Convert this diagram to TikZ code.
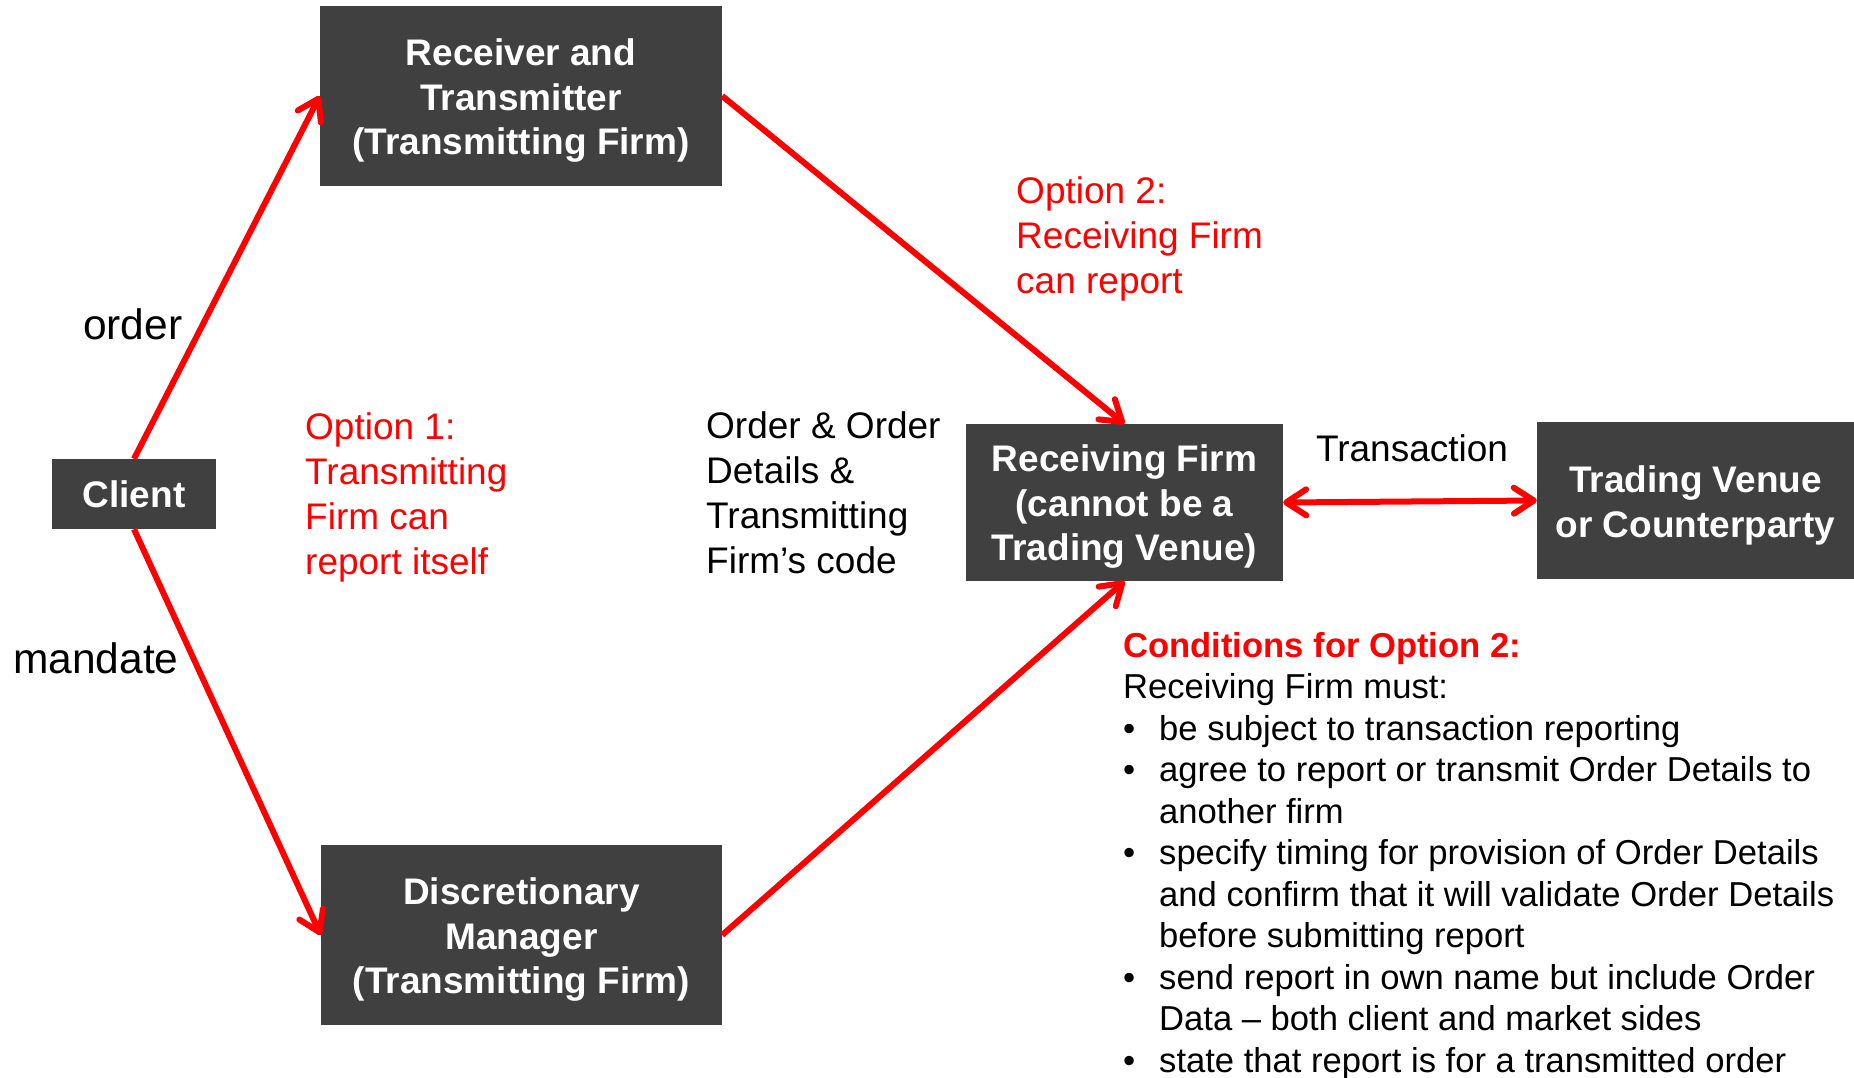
\documentclass[tikz,border=0pt]{standalone}
\usepackage{fontspec}
\setmainfont{Liberation Sans}
\usetikzlibrary{arrows.meta}
\definecolor{boxgray}{HTML}{404040}
\definecolor{optred}{HTML}{FF0000}
\newcommand{\lowr}[1]{\rule{0pt}{#1}}
\begin{document}
\begin{tikzpicture}[x=1pt,y=-1pt,
  box/.style={fill=boxgray,text=white,font=\bfseries\fontsize{37}{44.5}\selectfont,align=center,inner sep=0pt},
  lbl/.style={font=\fontsize{42.5}{51}\selectfont,inner sep=0pt,anchor=base west},
  txt/.style={font=\fontsize{37}{45}\selectfont,inner sep=0pt,anchor=base west},
  redtxt/.style={txt,text=optred},
  condtxt/.style={font=\fontsize{34.6}{41.5}\selectfont,inner sep=0pt,anchor=base west},
  arr/.style={draw=optred,line width=6pt,-{Straight Barb[length=20pt,width=26pt,round]}},
  darr/.style={draw=optred,line width=6pt,{Straight Barb[length=20pt,width=26pt,round]}-{Straight Barb[length=20pt,width=26pt,round]}}]
\useasboundingbox (0,0) rectangle (1854,1077);
\fill[white] (0,0) rectangle (1854,1077);

% boxes
\node[box,minimum width=402pt,minimum height=180pt] (rt) at (521,96) {\lowr{36.5pt}Receiver and\\Transmitter\\(Transmitting Firm)};
\node[box,minimum width=164pt,minimum height=70pt] (client) at (134,494) {Client};
\node[box,minimum width=401pt,minimum height=180pt] (dm) at (521.5,935) {\lowr{36pt}Discretionary\\Manager\\(Transmitting Firm)};
\node[box,minimum width=317pt,minimum height=157pt] (rf) at (1124.5,502.5) {\lowr{35pt}Receiving Firm\\(cannot be a\\Trading Venue)};
\node[box,minimum width=317pt,minimum height=157pt] (tv) at (1695.5,500.5) {\lowr{36.5pt}Trading Venue\\or Counterparty};

% connectors
\draw[arr] (client.north) -- (rt.west);
\draw[arr] (client.south) -- (dm.west);
\draw[arr] (rt.east) -- (rf.north);
\draw[arr] (dm.east) -- (rf.south);
\draw[darr] (rf.east) -- (tv.west);

% labels
\node[lbl] (lorder) at (83,339) {order};
\node[lbl] (lmandate) at (13,673) {mandate};
\node[redtxt] (opt1) at (305,439) {\begin{tabular}[t]{@{}l@{}}Option 1:\\Transmitting\\Firm can\\report itself\end{tabular}};
\node[txt] (ordtxt) at (706,438) {\begin{tabular}[t]{@{}l@{}}Order \& Order\\Details \&\\Transmitting\\Firm’s code\end{tabular}};
\node[redtxt] (opt2) at (1016,203) {\begin{tabular}[t]{@{}l@{}}Option 2:\\Receiving Firm\\can report\end{tabular}};
\node[txt,anchor=base] (ltrans) at (1412,461) {Transaction};
\node[condtxt] (cond) at (1123,657) {\begin{tabular}[t]{@{}l@{}}%
\textcolor{optred}{\bfseries Conditions for Option 2:}\\
Receiving Firm must:\\
\makebox[36pt][l]{•}be subject to transaction reporting\\
\makebox[36pt][l]{•}agree to report or transmit Order Details to\\
\hspace*{36pt}another firm\\
\makebox[36pt][l]{•}specify timing for provision of Order Details\\
\hspace*{36pt}and confirm that it will validate Order Details\\
\hspace*{36pt}before submitting report\\
\makebox[36pt][l]{•}send report in own name but include Order\\
\hspace*{36pt}Data – both client and market sides\\
\makebox[36pt][l]{•}state that report is for a transmitted order
\end{tabular}};
\end{tikzpicture}
\end{document}
